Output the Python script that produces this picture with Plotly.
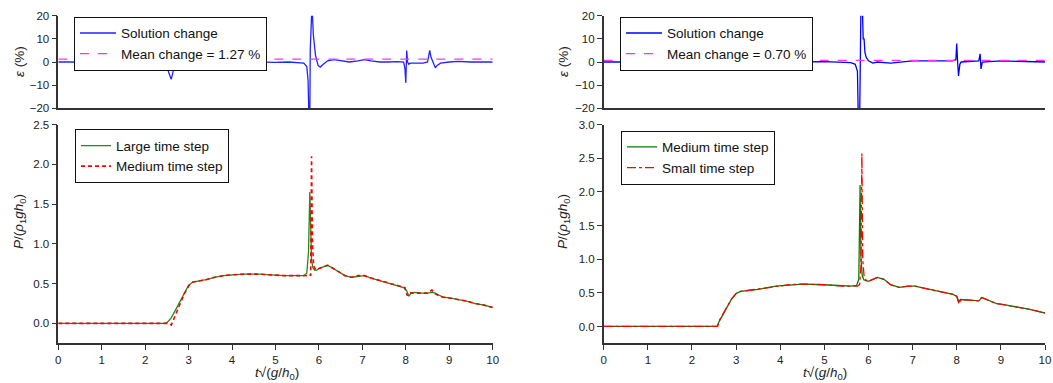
import plotly.graph_objects as go

# ---------------- data ----------------
# top-left: solution change (large vs medium)
t_eps1 = [0, 2.3, 2.4, 2.45, 2.5, 2.55, 2.6, 2.65, 2.7, 2.75, 2.8, 2.9, 3.0, 3.1, 3.2, 3.3, 3.5, 3.8, 4.0,
          4.3, 4.5, 4.8, 5.0, 5.3, 5.5, 5.65, 5.72, 5.75, 5.77, 5.79, 5.8, 5.82, 5.84, 5.87, 5.92, 5.98,
          6.03, 6.1, 6.2, 6.35, 6.5, 6.7, 6.9, 7.05, 7.2, 7.4, 7.6, 7.8, 7.95, 7.98, 8.0, 8.02, 8.04,
          8.07, 8.1, 8.2, 8.4, 8.5, 8.55, 8.58, 8.62, 8.68, 8.72, 8.8, 9.0, 9.2, 9.5, 10.0]
eps1 = [0, 0, 0, -0.5, -2, -5, -7.5, -3.5, -1, 0, 1, 1.5, 1.8, 1.7, 1, 0, -0.2, 0.1, 0,
        0.2, 0, -0.1, -0.2, 0, -0.3, -0.5, -2, -8, -25, -25, 5, 25, 25, 12, 3, -1.5,
        -2.2, -1, 0.5, 1, 0.5, 0, 0.5, 1, 0.5, 0, 0, 0.2, 0, -3, -9, 5, 0,
        -1, -0.5, -0.5, -0.5, 0, 5, 2, 0, -2.5, -1.5, -0.5, 0, 0.3, 0, 0]
mean1 = 1.27

# top-right: solution change (medium vs small)
t_eps2 = [0, 2.5, 2.55, 2.6, 2.65, 2.7, 2.75, 2.8, 2.85, 2.9, 3.0, 3.1, 3.3, 3.6, 4.0, 4.5, 5.0, 5.4,
          5.6, 5.7, 5.75, 5.77, 5.8, 5.83, 5.86, 5.88, 5.9, 5.92, 5.95, 6.0, 6.1, 6.2, 6.5, 7.0, 7.5,
          7.9, 7.98, 8.0, 8.02, 8.04, 8.07, 8.1, 8.5, 8.53, 8.55, 8.58, 9.0, 9.5, 10.0]
eps2 = [0, 0, -0.5, 2, 1.5, 2.5, 1, 1.5, 0.5, 1, 0, 0.3, 0, -0.2, 0.2, 0, 0.2, -0.2,
        -0.3, -1, -4, -25, -25, 25, 25, 10, 10, 4, 2, 0.5, -0.5, 0, -0.5, 0.5, 0.5,
        0.5, 1, 8, 0, -6, -1, 0, 0.5, 3.5, -3, 0, 0.5, 0.3, 0]
mean2 = 0.70

# bottom-left: pressure, large time step
t_large = [0, 2.45, 2.5, 2.6, 2.7, 2.8, 2.9, 3.0, 3.1, 3.2, 3.4, 3.6, 3.8, 4.0, 4.3, 4.6, 4.9, 5.2,
           5.5, 5.65, 5.72, 5.76, 5.79, 5.81, 5.83, 5.86, 5.9, 5.95, 6.0, 6.1, 6.2, 6.3, 6.45, 6.6,
           6.75, 6.9, 7.05, 7.2, 7.4, 7.6, 7.8, 7.95, 8.02, 8.07, 8.12, 8.2, 8.35, 8.5, 8.6, 8.68,
           8.75, 8.85, 9.0, 9.2, 9.4, 9.6, 9.8, 10.0]
p_large = [0, 0, 0.01, 0.07, 0.17, 0.28, 0.39, 0.48, 0.52, 0.53, 0.55, 0.58, 0.6, 0.61, 0.62, 0.62, 0.61, 0.6,
           0.6, 0.6, 0.63, 0.9, 1.65, 1.2, 0.8, 0.7, 0.67, 0.67, 0.69, 0.71, 0.73, 0.7, 0.65, 0.6,
           0.58, 0.59, 0.6, 0.57, 0.54, 0.51, 0.48, 0.45, 0.41, 0.34, 0.38, 0.39, 0.38, 0.38, 0.39, 0.38,
           0.36, 0.33, 0.32, 0.3, 0.28, 0.25, 0.23, 0.2]

# bottom-left: pressure, medium time step
t_med1 = [0, 2.55, 2.6, 2.63, 2.7, 2.8, 2.9, 3.0, 3.1, 3.2, 3.4, 3.6, 3.8, 4.0, 4.3, 4.6, 4.9, 5.2,
          5.5, 5.7, 5.78, 5.81, 5.83, 5.85, 5.88, 5.92, 5.96, 6.0, 6.1, 6.2, 6.3, 6.45, 6.6,
          6.75, 6.9, 7.05, 7.2, 7.4, 7.6, 7.8, 7.98, 8.03, 8.08, 8.15, 8.3, 8.5, 8.6, 8.65,
          8.75, 8.85, 9.0, 9.2, 9.4, 9.6, 9.8, 10.0]
p_med1 = [0, 0, -0.02, 0.02, 0.12, 0.25, 0.37, 0.47, 0.52, 0.53, 0.55, 0.58, 0.6, 0.61, 0.62, 0.62, 0.61, 0.6,
          0.6, 0.6, 0.62, 0.6, 2.1, 1.0, 0.72, 0.68, 0.67, 0.69, 0.71, 0.73, 0.7, 0.65, 0.6,
          0.58, 0.6, 0.6, 0.57, 0.54, 0.51, 0.48, 0.45, 0.35, 0.39, 0.38, 0.38, 0.38, 0.42, 0.38,
          0.35, 0.33, 0.32, 0.3, 0.28, 0.25, 0.23, 0.2]

# bottom-right: pressure, medium time step
t_med2 = [0, 2.57, 2.62, 2.7, 2.8, 2.9, 3.0, 3.1, 3.2, 3.5, 3.9, 4.2, 4.5, 5.0, 5.4, 5.6, 5.73, 5.78,
          5.81, 5.83, 5.86, 5.9, 5.95, 6.0, 6.1, 6.2, 6.35, 6.5, 6.7, 6.9, 7.05, 7.3, 7.6, 7.9, 8.0,
          8.05, 8.08, 8.3, 8.5, 8.57, 8.7, 8.9, 9.1, 9.3, 9.6, 9.8, 10.0]
p_med2 = [0, 0, 0.08, 0.18, 0.3, 0.41, 0.49, 0.52, 0.53, 0.55, 0.6, 0.62, 0.63, 0.62, 0.6, 0.6, 0.61, 0.7,
          2.1, 1.0, 0.75, 0.69, 0.68, 0.67, 0.7, 0.73, 0.7, 0.62, 0.58, 0.6, 0.6, 0.56, 0.52, 0.48, 0.45,
          0.36, 0.4, 0.39, 0.38, 0.43, 0.39, 0.34, 0.32, 0.3, 0.26, 0.23, 0.2]

# bottom-right: pressure, small time step
t_small = [0, 2.58, 2.63, 2.7, 2.8, 2.9, 3.0, 3.1, 3.2, 3.5, 3.9, 4.2, 4.5, 5.0, 5.4, 5.6, 5.75, 5.8,
           5.83, 5.85, 5.87, 5.9, 5.95, 6.0, 6.1, 6.2, 6.35, 6.5, 6.7, 6.9, 7.05, 7.3, 7.6, 7.9, 8.0,
           8.05, 8.09, 8.3, 8.5, 8.56, 8.7, 8.9, 9.1, 9.3, 9.6, 9.8, 10.0]
p_small = [0, 0, 0.1, 0.19, 0.3, 0.41, 0.49, 0.52, 0.53, 0.55, 0.6, 0.62, 0.63, 0.62, 0.6, 0.6, 0.6, 0.62,
           0.9, 2.57, 1.0, 0.75, 0.68, 0.67, 0.7, 0.73, 0.7, 0.62, 0.58, 0.6, 0.6, 0.56, 0.52, 0.48, 0.45,
           0.33, 0.4, 0.39, 0.38, 0.43, 0.39, 0.34, 0.32, 0.3, 0.26, 0.23, 0.2]

x_ticks = [0, 1, 2, 3, 4, 5, 6, 7, 8, 9, 10]
eps_ticks = [-20, -10, 0, 10, 20]
p_ticks_left = [0.0, 0.5, 1.0, 1.5, 2.0, 2.5]
p_ticks_right = [0.0, 0.5, 1.0, 1.5, 2.0, 2.5, 3.0]

# ---------------- figure ----------------
W, H = 1053, 383
FONT = "Arial, Liberation Sans, sans-serif"
AX = "#333333"

def px_x(p):
    return p / W

def px_y(p):
    return 1 - p / H

xl = [px_x(58.3), px_x(492.7)]
xr = [px_x(603.7), px_x(1045)]
ytop = [px_y(108.3), px_y(15.7)]
ybot = [px_y(343.3), px_y(124.5)]

fig = go.Figure()

fig.add_trace(go.Scatter(x=t_eps1, y=eps1, mode="lines", name="Solution change",
                         line=dict(color="#2222ff", width=1.3), xaxis="x", yaxis="y", legend="legend"))
fig.add_trace(go.Scatter(x=[0, 10], y=[mean1, mean1], mode="lines", name="Mean change = 1.27 %",
                         line=dict(color="#ff33ff", width=1.3, dash="dash"), xaxis="x", yaxis="y", legend="legend"))
fig.add_trace(go.Scatter(x=t_eps2, y=eps2, mode="lines", name="Solution change",
                         line=dict(color="#0000ff", width=1.3), xaxis="x2", yaxis="y2", legend="legend2"))
fig.add_trace(go.Scatter(x=[0, 10], y=[mean2, mean2], mode="lines", name="Mean change = 0.70 %",
                         line=dict(color="#ff33ff", width=1.3, dash="dash"), xaxis="x2", yaxis="y2", legend="legend2"))

fig.add_trace(go.Scatter(x=t_large, y=p_large, mode="lines", name="Large time step",
                         line=dict(color="#1a8c1a", width=1.3), xaxis="x3", yaxis="y3", legend="legend3"))
fig.add_trace(go.Scatter(x=t_med1, y=p_med1, mode="lines", name="Medium time step",
                         line=dict(color="#ff0000", width=1.6, dash="4px,3px"), xaxis="x3", yaxis="y3", legend="legend3"))
fig.add_trace(go.Scatter(x=t_med2, y=p_med2, mode="lines", name="Medium time step",
                         line=dict(color="#008000", width=1.3), xaxis="x4", yaxis="y4", legend="legend4"))
fig.add_trace(go.Scatter(x=t_small, y=p_small, mode="lines", name="Small time step",
                         line=dict(color="#ff0000", width=1.3, dash="dashdot"), xaxis="x4", yaxis="y4", legend="legend4"))

axis_common = dict(showline=True, linecolor=AX, linewidth=1.5, ticks="outside", tickcolor=AX,
                   ticklen=5, tickwidth=1.2, showgrid=False, zeroline=False, automargin=False,
                   tickfont=dict(family=FONT, size=11.5, color="#222222"))

xbot = dict(axis_common, range=[0, 10], tickvals=x_ticks)
xtop = dict(axis_common, range=[0, 10], ticks="", showticklabels=False)

fig.update_layout(
    width=W, height=H, margin=dict(l=0, r=0, t=0, b=0),
    paper_bgcolor="white", plot_bgcolor="white",
    font=dict(family=FONT, size=13, color="#222222"),
    xaxis=dict(xtop, domain=xl, anchor="y"),
    yaxis=dict(axis_common, domain=ytop, range=[-20, 20], tickvals=eps_ticks, anchor="x"),
    xaxis2=dict(xtop, domain=xr, anchor="y2"),
    yaxis2=dict(axis_common, domain=ytop, range=[-20, 20], tickvals=eps_ticks, anchor="x2"),
    xaxis3=dict(xbot, domain=xl, anchor="y3"),
    yaxis3=dict(axis_common, domain=ybot, range=[-0.25, 2.5], tickvals=p_ticks_left,
                tickformat=".1f", anchor="x3"),
    xaxis4=dict(xbot, domain=xr, anchor="y4"),
    yaxis4=dict(axis_common, domain=ybot, range=[-0.25, 3.0], tickvals=p_ticks_right,
                tickformat=".1f", anchor="x4"),
)

legend_common = dict(bgcolor="white", bordercolor="#111111", borderwidth=1,
                     font=dict(family=FONT, size=13.5, color="#111111"),
                     xanchor="left", yanchor="top", tracegroupgap=0, itemwidth=36)
legend_bottom = dict(legend_common, itemwidth=30)
fig.update_layout(
    legend=dict(legend_common, x=px_x(74), y=px_y(16.7)),
    legend2=dict(legend_common, x=px_x(620), y=px_y(16.7)),
    legend3=dict(legend_bottom, x=px_x(75), y=px_y(129.3)),
    legend4=dict(legend_bottom, x=px_x(621), y=px_y(130.7)),
)

# axis titles as annotations
ann = []
tfont = dict(family=FONT, size=13.5, color="#222222")
for xc in [19, 563]:
    ann.append(dict(text="<i>ε</i> (%)", x=px_x(xc), y=px_y(62), xref="paper", yref="paper",
                    xanchor="center", yanchor="middle", showarrow=False, textangle=-90, font=tfont))
    ann.append(dict(text="<i>P</i>/(<i>ρ</i><sub>1</sub><i>gh</i><sub>0</sub>)", x=px_x(xc), y=px_y(222),
                    xref="paper", yref="paper", xanchor="center", yanchor="middle",
                    showarrow=False, textangle=-90, font=tfont))
for xc in [276.5, 825]:
    ann.append(dict(text="<i>t</i>√(<i>g</i>/<i>h</i><sub>0</sub>)", x=px_x(xc), y=px_y(373),
                    xref="paper", yref="paper", xanchor="center", yanchor="middle", showarrow=False,
                    font=tfont))
fig.update_layout(annotations=ann)

fig.write_html("out.html")
